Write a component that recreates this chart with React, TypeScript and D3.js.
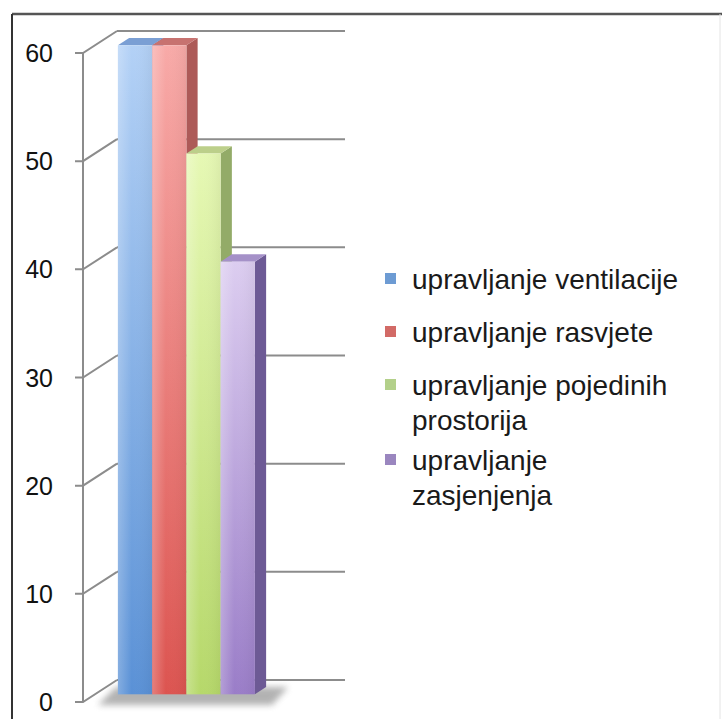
import React from "react";
import * as d3 from "d3";

// chart data
const series = [
  "upravljanje ventilacije",
  "upravljanje rasvjete",
  "upravljanje pojedinih prostorija",
  "upravljanje zasjenjenja",
];
const legendLines = [
  ["upravljanje ventilacije"],
  ["upravljanje rasvjete"],
  ["upravljanje pojedinih", "prostorija"],
  ["upravljanje", "zasjenjenja"],
];
const values = [60, 60, 50, 40];
const yTicks = [0, 10, 20, 30, 40, 50, 60];

// colours: [front top, front bottom, side, top face, legend]
const palette = [
  { top: "#b3d1f6", bottom: "#5a91d6", side: "#4a73ad", cap: "#7a9fd4", key: "#6d9bd3" },
  { top: "#f8aaa8", bottom: "#dc5450", side: "#ad5a58", cap: "#c77270", key: "#d26a66" },
  { top: "#e6f8b4", bottom: "#b6d86a", side: "#93ab68", cap: "#bccf8a", key: "#b3d08a" },
  { top: "#dccdf0", bottom: "#9a7dc8", side: "#6d5a95", cap: "#a591c8", key: "#9a86bf" },
];

const W = 722;
const H = 719;
const depth = { x: 34, y: -22 }; // 3d depth of the plot box
const barOffset = 0.35; // bar front plane, as fraction of depth
const barDepth = 0.33;

export default function App() {
  const y = d3.scaleLinear().domain([0, 60]).range([702, 53]);
  const x = d3.scaleBand<string>().domain(series).range([106, 243]).paddingInner(0);
  const axisX = 83;
  const backRight = 345;

  const ox = depth.x * barOffset;
  const oy = depth.y * barOffset;
  const dx = depth.x * barDepth;
  const dy = depth.y * barDepth;

  const font = "'Liberation Sans', Arial, sans-serif";

  // legend baselines
  let cursor = 289;
  const legendRows = legendLines.map((lines, i) => {
    const row = { lines, i, base: cursor };
    cursor += i === 2 ? 75 : 53;
    return row;
  });

  const firstX = x(series[0]) ?? 0;
  const lastX = (x(series[3]) ?? 0) + x.bandwidth();

  return (
    <svg width={W} height={H} style={{ position: "absolute", left: 0, top: 0, background: "#fff" }}>
      <defs>
        {palette.map((p, i) => (
          <linearGradient key={i} id={`g${i}`} x1="0" y1="0" x2="0" y2="1">
            <stop offset="0%" stopColor={p.top} />
            <stop offset="100%" stopColor={p.bottom} />
          </linearGradient>
        ))}
        {palette.map((p, i) => (
          <linearGradient key={"h" + i} id={`h${i}`} x1="0" y1="0" x2="1" y2="0">
            <stop offset="0%" stopColor="#fff" stopOpacity={0.25} />
            <stop offset="40%" stopColor="#fff" stopOpacity={0} />
            <stop offset="100%" stopColor="#000" stopOpacity={0.05} />
          </linearGradient>
        ))}
        <filter id="blur" x="-20%" y="-100%" width="140%" height="300%">
          <feGaussianBlur stdDeviation="3" />
        </filter>
      </defs>

      {/* frame */}
      <line x1={12} y1={14} x2={W} y2={14} stroke="#555" strokeWidth={2.5} />
      <line x1={12} y1={14} x2={12} y2={H} stroke="#333" strokeWidth={2} />
      <line x1={720} y1={14} x2={720} y2={H} stroke="#e4e4e4" strokeWidth={1} />

      {/* back wall gridlines and left wall diagonals */}
      {yTicks.map((t) => (
        <g key={t} stroke="#8c8c8c" strokeWidth={2} fill="none">
          <line x1={axisX + depth.x} y1={y(t) + depth.y} x2={backRight} y2={y(t) + depth.y} />
          <polyline
            points={`${axisX - 8},${y(t)} ${axisX},${y(t)} ${axisX + depth.x},${y(t) + depth.y}`}
          />
        </g>
      ))}
      <line x1={axisX} y1={y(0)} x2={axisX} y2={y(60)} stroke="#8c8c8c" strokeWidth={2} />

      {/* floor shadow */}
      <polygon
        points={`${firstX - 8},${y(0) + 3} ${lastX + ox + dx + 6},${y(0) + 3} ${lastX + ox + dx + 22},${y(0) + oy + dy} ${firstX + 10},${y(0) + oy + dy}`}
        fill="#8a8a8a"
        opacity={0.65}
        filter="url(#blur)"
      />

      {/* bars */}
      {series.map((s, i) => {
        const x0 = (x(s) ?? 0) + ox;
        const x1 = x0 + x.bandwidth();
        const yb = y(0) + oy;
        const yt = y(values[i]) + oy;
        const p = palette[i];
        return (
          <g key={s}>
            <polygon
              points={`${x1},${yt} ${x1 + dx},${yt + dy} ${x1 + dx},${yb + dy} ${x1},${yb}`}
              fill={p.side}
            />
            <polygon
              points={`${x0},${yt} ${x0 + dx},${yt + dy} ${x1 + dx},${yt + dy} ${x1},${yt}`}
              fill={p.cap}
            />
            <rect x={x0} y={yt} width={x.bandwidth()} height={yb - yt} fill={`url(#g${i})`} />
            <rect x={x0} y={yt} width={x.bandwidth()} height={yb - yt} fill={`url(#h${i})`} />
          </g>
        );
      })}

      {/* y tick labels */}
      {yTicks.map((t) => (
        <text
          key={t}
          x={53}
          y={y(t)}
          dy="0.36em"
          textAnchor="end"
          fontFamily={font}
          fontSize={25}
          fill="#111"
        >
          {t}
        </text>
      ))}

      {/* legend */}
      {legendRows.map((r) => (
        <g key={r.i}>
          <rect x={385} y={r.base - 16} width={11} height={11} fill={palette[r.i].key} />
          {r.lines.map((ln, j) => (
            <text
              key={j}
              x={412}
              y={r.base + j * 35}
              fontFamily={font}
              fontSize={28}
              fill="#1a1a1a"
            >
              {ln}
            </text>
          ))}
        </g>
      ))}
    </svg>
  );
}
